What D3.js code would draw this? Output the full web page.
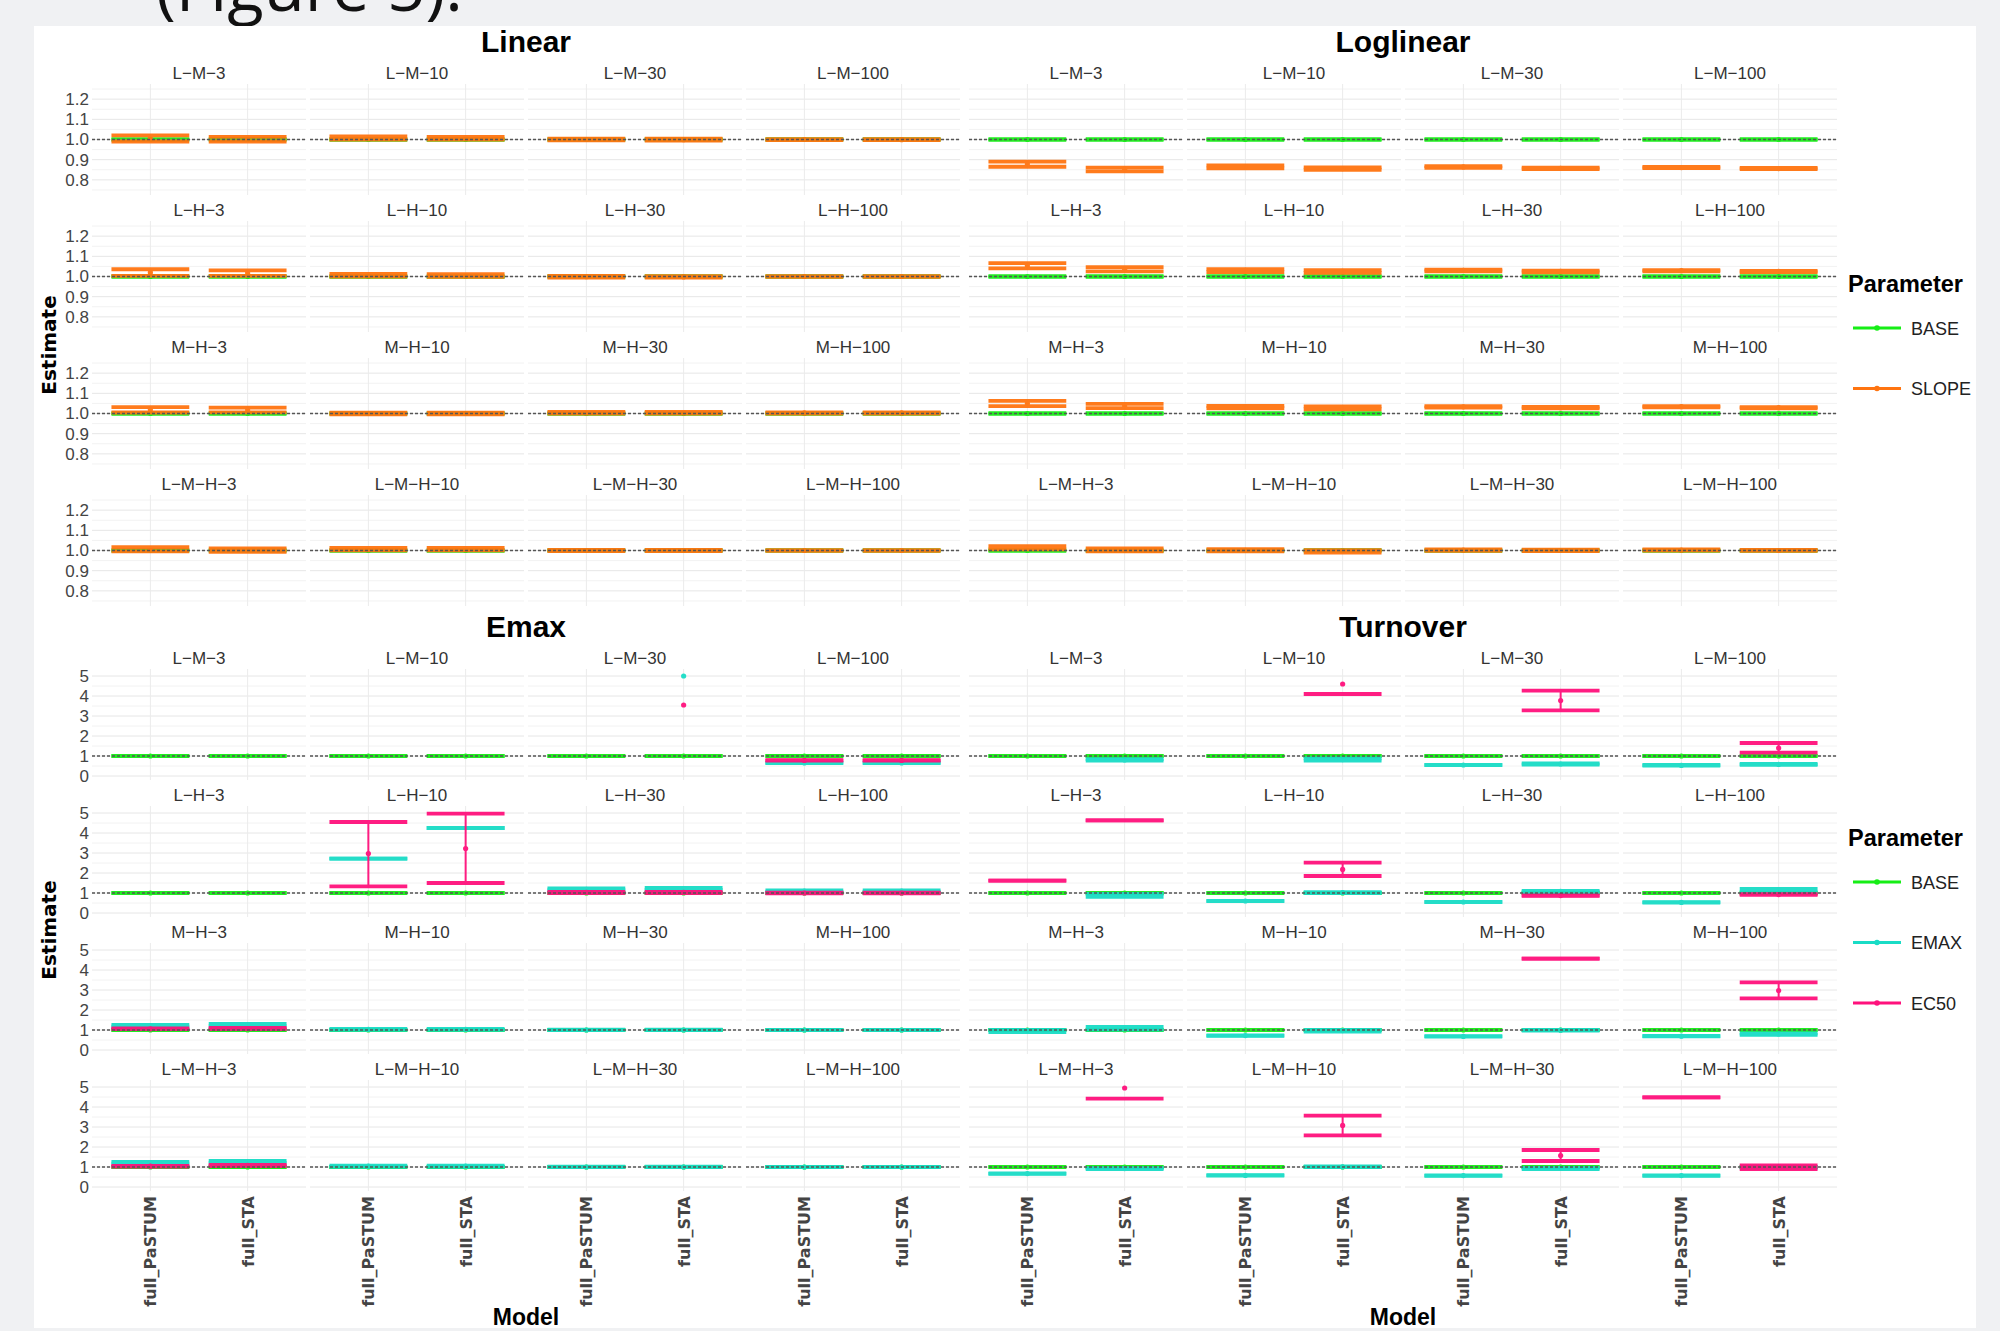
<!DOCTYPE html>
<html>
<head>
<meta charset="utf-8">
<script src="https://cdn.jsdelivr.net/npm/d3@7"></script>
<style>
  body { margin: 0; background: #f0f1f3; }
  svg { display: block; }
</style>
</head>
<body>
<svg id="chart" width="2000" height="1331"></svg>
<script>
const models = ["full_PaSTUM", "full_STA"];
const facetLabels = [
  ["L−M−3", "L−M−10", "L−M−30", "L−M−100"],
  ["L−H−3", "L−H−10", "L−H−30", "L−H−100"],
  ["M−H−3", "M−H−10", "M−H−30", "M−H−100"],
  ["L−M−H−3", "L−M−H−10", "L−M−H−30", "L−M−H−100"]
];
const upperTicks = [0.8, 0.9, 1.0, 1.1, 1.2];
const upperMinor = [0.75, 0.85, 0.95, 1.05, 1.15, 1.25];
const lowerTicks = [0, 1, 2, 3, 4, 5];
const lowerMinor = [0.5, 1.5, 2.5, 3.5, 4.5];
const paramColors = { BASE: "#16ee16", SLOPE: "#ff7410", EMAX: "#19dcc6", EC50: "#ff117c" };

// one entry per facet, row by row; each is [full_PaSTUM, full_STA] as [estimate, lower, upper]
const linearBASE = [
  [[1.0, 0.998, 1.002], [1.0, 0.998, 1.002]], [[1.0, 0.998, 1.002], [1.0, 0.998, 1.002]], [[1.0, 0.998, 1.002], [1.0, 0.998, 1.002]], [[1.0, 0.998, 1.002], [1.0, 0.998, 1.002]],
  [[1.0, 0.998, 1.002], [1.0, 0.998, 1.002]], [[1.0, 0.998, 1.002], [1.0, 0.998, 1.002]], [[1.0, 0.998, 1.002], [1.0, 0.998, 1.002]], [[1.0, 0.998, 1.002], [1.0, 0.998, 1.002]],
  [[1.0, 0.998, 1.002], [1.0, 0.998, 1.002]], [[1.0, 0.998, 1.002], [1.0, 0.998, 1.002]], [[1.0, 0.998, 1.002], [1.0, 0.998, 1.002]], [[1.0, 0.998, 1.002], [1.0, 0.998, 1.002]],
  [[1.0, 0.998, 1.002], [1.0, 0.998, 1.002]], [[1.0, 0.998, 1.002], [1.0, 0.998, 1.002]], [[1.0, 0.998, 1.002], [1.0, 0.998, 1.002]], [[1.0, 0.998, 1.002], [1.0, 0.998, 1.002]]
];
const linearSLOPE = [
  [[1.005, 0.99, 1.02], [1.0, 0.99, 1.013]], [[1.008, 1.0, 1.015], [1.006, 0.999, 1.013]], [[1.0, 0.996, 1.004], [0.999, 0.994, 1.004]], [[1.0, 0.997, 1.002], [0.999, 0.997, 1.002]],
  [[1.02, 1.003, 1.036], [1.017, 1.003, 1.03]], [[1.006, 0.999, 1.013], [1.005, 0.998, 1.012]], [[0.999, 0.995, 1.003], [0.998, 0.994, 1.002]], [[1.0, 0.998, 1.002], [1.0, 0.998, 1.002]],
  [[1.018, 1.005, 1.032], [1.017, 1.006, 1.029]], [[1.0, 0.996, 1.004], [1.0, 0.996, 1.004]], [[1.004, 1.0, 1.008], [1.004, 1.0, 1.008]], [[1.003, 1.0, 1.006], [1.003, 1.0, 1.006]],
  [[1.006, 0.996, 1.016], [1.002, 0.993, 1.011]], [[1.007, 1.001, 1.013], [1.007, 1.001, 1.013]], [[1.0, 0.997, 1.003], [1.0, 0.997, 1.003]], [[1.0, 0.998, 1.002], [1.0, 0.998, 1.002]]
];
const loglinearBASE = [
  [[1.0, 0.998, 1.002], [1.0, 0.998, 1.002]], [[1.0, 0.998, 1.002], [1.0, 0.998, 1.002]], [[1.0, 0.998, 1.002], [1.0, 0.998, 1.002]], [[1.0, 0.998, 1.002], [1.0, 0.998, 1.002]],
  [[1.0, 0.998, 1.002], [1.0, 0.998, 1.002]], [[1.0, 0.998, 1.002], [1.0, 0.998, 1.002]], [[1.0, 0.998, 1.002], [1.0, 0.998, 1.002]], [[1.0, 0.998, 1.002], [1.0, 0.998, 1.002]],
  [[1.0, 0.998, 1.002], [1.0, 0.998, 1.002]], [[1.0, 0.998, 1.002], [1.0, 0.998, 1.002]], [[1.0, 0.998, 1.002], [1.0, 0.998, 1.002]], [[1.0, 0.998, 1.002], [1.0, 0.998, 1.002]],
  [[1.0, 0.998, 1.002], [1.0, 0.998, 1.002]], [[1.0, 0.998, 1.002], [1.0, 0.998, 1.002]], [[1.0, 0.998, 1.002], [1.0, 0.998, 1.002]], [[1.0, 0.998, 1.002], [1.0, 0.998, 1.002]]
];
const loglinearSLOPE = [
  [[0.878, 0.865, 0.89], [0.852, 0.842, 0.861]], [[0.865, 0.857, 0.872], [0.856, 0.85, 0.862]], [[0.864, 0.86, 0.868], [0.857, 0.853, 0.861]], [[0.861, 0.858, 0.864], [0.856, 0.853, 0.859]],
  [[1.053, 1.04, 1.066], [1.036, 1.025, 1.046]], [[1.03, 1.022, 1.037], [1.025, 1.018, 1.032]], [[1.03, 1.026, 1.034], [1.025, 1.021, 1.029]], [[1.029, 1.026, 1.032], [1.025, 1.022, 1.028]],
  [[1.05, 1.037, 1.063], [1.037, 1.027, 1.048]], [[1.032, 1.026, 1.038], [1.028, 1.021, 1.035]], [[1.033, 1.029, 1.037], [1.029, 1.025, 1.033]], [[1.034, 1.031, 1.037], [1.029, 1.026, 1.032]],
  [[1.014, 1.006, 1.022], [1.003, 0.996, 1.011]], [[1.001, 0.996, 1.007], [0.996, 0.99, 1.002]], [[1.002, 0.998, 1.006], [1.0, 0.997, 1.004]], [[1.002, 0.999, 1.005], [1.0, 0.998, 1.003]]
];
const emaxBASE = [
  [[1.0, 0.99, 1.01], [1.0, 0.99, 1.01]], [[1.0, 0.99, 1.01], [1.0, 0.99, 1.01]], [[1.0, 0.99, 1.01], [1.0, 0.99, 1.01]], [[1.0, 0.99, 1.01], [1.0, 0.99, 1.01]],
  [[1.0, 0.99, 1.01], [1.0, 0.99, 1.01]], [[1.0, 0.99, 1.01], [1.0, 0.99, 1.01]], [[1.0, 0.99, 1.01], [1.0, 0.99, 1.01]], [[1.0, 0.99, 1.01], [1.0, 0.99, 1.01]],
  [[1.0, 0.99, 1.01], [1.0, 0.99, 1.01]], [[1.0, 0.99, 1.01], [1.0, 0.99, 1.01]], [[1.0, 0.99, 1.01], [1.0, 0.99, 1.01]], [[1.0, 0.99, 1.01], [1.0, 0.99, 1.01]],
  [[1.0, 0.99, 1.01], [1.0, 0.99, 1.01]], [[1.0, 0.99, 1.01], [1.0, 0.99, 1.01]], [[1.0, 0.99, 1.01], [1.0, 0.99, 1.01]], [[1.0, 0.99, 1.01], [1.0, 0.99, 1.01]]
];
const emaxEMAX = [
  [null, null], [null, null], [null, [5.0, null, null]], [[0.65, 0.64, 0.67], [0.65, 0.64, 0.67]],
  [null, null], [[null, 2.72, 2.72], [null, 4.25, 4.25]], [[1.18, 1.14, 1.23], [1.19, 1.15, 1.25]], [[1.1, 1.06, 1.13], [1.1, 1.06, 1.13]],
  [[1.22, 1.17, 1.26], [1.25, 1.19, 1.31]], [[1.03, 1.01, 1.05], [1.03, 1.01, 1.05]], [[1.0, 0.99, 1.02], [1.0, 0.99, 1.02]], [[1.0, 0.99, 1.01], [1.0, 0.99, 1.01]],
  [[1.21, 1.17, 1.25], [1.25, 1.21, 1.3]], [[1.04, 1.01, 1.07], [1.04, 1.01, 1.07]], [[1.0, 0.99, 1.02], [1.0, 0.99, 1.02]], [[1.0, 0.99, 1.01], [1.0, 0.99, 1.01]]
];
const emaxEC50 = [
  [null, null], [null, null], [null, [3.55, null, null]], [[0.78, 0.77, 0.79], [0.78, 0.77, 0.79]],
  [null, null], [[2.97, 1.33, 4.55], [3.22, 1.5, 4.97]], [[1.03, 1.0, 1.06], [1.03, 1.0, 1.06]], [[1.0, 0.98, 1.02], [1.0, 0.98, 1.02]],
  [[1.06, 1.04, 1.08], [1.07, 1.04, 1.1]], [null, null], [null, null], [null, null],
  [[1.04, 1.02, 1.06], [1.08, 1.05, 1.1]], [null, null], [null, null], [null, null]
];
const turnoverBASE = [
  [[1.0, 0.99, 1.01], [1.0, 0.99, 1.01]], [[1.0, 0.99, 1.01], [1.0, 0.99, 1.01]], [[1.0, 0.99, 1.01], [1.0, 0.99, 1.01]], [[1.0, 0.99, 1.01], [1.0, 0.99, 1.01]],
  [[1.0, 0.99, 1.01], [1.0, 0.99, 1.01]], [[1.0, 0.99, 1.01], [1.0, 0.99, 1.01]], [[1.0, 0.99, 1.01], [1.0, 0.99, 1.01]], [[1.0, 0.99, 1.01], [1.0, 0.99, 1.01]],
  [[1.0, 0.99, 1.01], [1.0, 0.99, 1.01]], [[1.0, 0.99, 1.01], [1.0, 0.99, 1.01]], [[1.0, 0.99, 1.01], [1.0, 0.99, 1.01]], [[1.0, 0.99, 1.01], [1.0, 0.99, 1.01]],
  [[1.0, 0.99, 1.01], [1.0, 0.99, 1.01]], [[1.0, 0.99, 1.01], [1.0, 0.99, 1.01]], [[1.0, 0.99, 1.01], [1.0, 0.99, 1.01]], [[1.0, 0.99, 1.01], [1.0, 0.99, 1.01]]
];
const turnoverEMAX = [
  [null, [0.8, 0.77, 0.84]], [null, [0.82, 0.77, 0.88]], [[0.55, 0.54, 0.56], [0.6, 0.57, 0.63]], [[0.53, 0.52, 0.55], [0.58, 0.56, 0.6]],
  [null, [0.88, 0.81, 0.96]], [[0.6, 0.59, 0.61], [1.02, 0.99, 1.04]], [[0.55, 0.54, 0.56], [1.08, 1.05, 1.11]], [[0.53, 0.52, 0.54], [1.13, 1.06, 1.21]],
  [[0.95, 0.89, 1.01], [1.09, 1.02, 1.16]], [[0.72, 0.71, 0.73], [0.97, 0.92, 1.01]], [[0.68, 0.67, 0.69], [0.99, 0.97, 1.01]], [[0.69, 0.68, 0.7], [0.8, 0.76, 0.83]],
  [[0.67, 0.66, 0.68], [0.92, 0.89, 0.94]], [[0.58, 0.57, 0.59], [1.01, 0.99, 1.03]], [[0.57, 0.56, 0.58], [0.93, 0.89, 0.96]], [[0.57, 0.56, 0.58], [0.98, 0.96, 1.0]]
];
const turnoverEC50 = [
  [null, null], [null, [4.6, 4.1, null]], [null, [3.77, 3.28, 4.27]], [null, [1.4, 1.17, 1.65]],
  [[null, 1.62, 1.62], [null, 4.63, 4.63]], [null, [2.18, 1.85, 2.52]], [null, [0.87, 0.86, 0.88]], [null, [0.92, 0.91, 0.94]],
  [null, null], [null, null], [null, [null, 4.57, 4.57]], [null, [2.97, 2.58, 3.38]],
  [null, [4.95, 4.42, null]], [null, [3.08, 2.58, 3.57]], [null, [1.57, 1.3, 1.85]], [[null, 4.48, 4.48], [0.99, 0.9, 1.08]]
];

const plots = [
  { title: "Linear", left: 92, top: 84, yDomain: [0.725, 1.275], ticks: upperTicks, minor: upperMinor, fmt: ".1f",
    yAxis: true, xAxis: false, params: ["BASE", "SLOPE"], data: { BASE: linearBASE, SLOPE: linearSLOPE } },
  { title: "Loglinear", left: 969, top: 84, yDomain: [0.725, 1.275], ticks: upperTicks, minor: upperMinor, fmt: ".1f",
    yAxis: false, xAxis: false, params: ["BASE", "SLOPE"], data: { BASE: loglinearBASE, SLOPE: loglinearSLOPE } },
  { title: "Emax", left: 92, top: 669, yDomain: [-0.2, 5.35], ticks: lowerTicks, minor: lowerMinor, fmt: "d",
    yAxis: true, xAxis: true, params: ["BASE", "EMAX", "EC50"], data: { BASE: emaxBASE, EMAX: emaxEMAX, EC50: emaxEC50 } },
  { title: "Turnover", left: 969, top: 669, yDomain: [-0.2, 5.35], ticks: lowerTicks, minor: lowerMinor, fmt: "d",
    yAxis: false, xAxis: true, params: ["BASE", "EMAX", "EC50"], data: { BASE: turnoverBASE, EMAX: turnoverEMAX, EC50: turnoverEC50 } }
];

const svg = d3.select("#chart");
const sans = "'Liberation Sans', Arial, sans-serif";
const wide = "'DejaVu Sans', Verdana, sans-serif";

// slide caption above the figure, cut off by the screenshot like the original
svg.append("text")
  .attr("x", 156).attr("y", 11)
  .attr("font-family", "'Open Sans', sans-serif").attr("font-size", 67)
  .attr("fill", "#111")
  .text("(Figure 5).");

svg.append("rect")
  .attr("x", 34).attr("y", 26).attr("width", 1942).attr("height", 1302)
  .attr("fill", "#fff");

const panelW = 214, panelH = 111, colStep = 218, rowStep = 137;

function drawPlot(p) {
  const g = svg.append("g");
  const midX = p.left + (3 * colStep + panelW) / 2;

  g.append("text")
    .attr("x", midX).attr("y", p.top - 32)
    .attr("text-anchor", "middle")
    .attr("font-family", sans).attr("font-weight", "bold").attr("font-size", 30)
    .text(p.title);

  if (p.yAxis) {
    g.append("text")
      .attr("transform", `translate(56,${p.top + (3 * rowStep + panelH) / 2}) rotate(-90)`)
      .attr("text-anchor", "middle")
      .attr("font-family", wide).attr("font-weight", "bold").attr("font-size", 20)
      .text("Estimate");
  }
  if (p.xAxis) {
    g.append("text")
      .attr("x", midX).attr("y", p.top + 656)
      .attr("text-anchor", "middle")
      .attr("font-family", sans).attr("font-weight", "bold").attr("font-size", 23)
      .text("Model");
  }

  facetLabels.forEach((rowLabels, r) => {
    const top = p.top + r * rowStep, bottom = top + panelH;
    const y = d3.scaleLinear().domain(p.yDomain).range([bottom, top]);

    if (p.yAxis) {
      const ax = g.append("g")
        .attr("transform", `translate(${p.left - 3},0)`)
        .call(d3.axisLeft(y).tickValues(p.ticks).tickSize(0).tickPadding(0).tickFormat(d3.format(p.fmt)));
      ax.select(".domain").remove();
      ax.selectAll("text")
        .attr("font-family", sans).attr("font-size", 17).attr("fill", "#444");
    }

    rowLabels.forEach((lab, c) => {
      const left = p.left + c * colStep;
      const x = d3.scalePoint().domain(models).range([left, left + panelW]).padding(0.6);
      const hw = x.step() * 0.4;
      const idx = r * 4 + c;
      const pg = g.append("g");

      // gridlines
      pg.selectAll(".minor").data(p.minor).join("line")
        .attr("x1", left).attr("x2", left + panelW)
        .attr("y1", d => y(d)).attr("y2", d => y(d))
        .attr("stroke", "#f2f2f2").attr("stroke-width", 1);
      pg.selectAll(".major").data(p.ticks).join("line")
        .attr("x1", left).attr("x2", left + panelW)
        .attr("y1", d => y(d)).attr("y2", d => y(d))
        .attr("stroke", "#e6e6e6").attr("stroke-width", 1);
      pg.selectAll(".vgrid").data(models).join("line")
        .attr("x1", d => x(d)).attr("x2", d => x(d))
        .attr("y1", top).attr("y2", bottom)
        .attr("stroke", "#ebebeb").attr("stroke-width", 1);

      pg.append("text")
        .attr("x", left + panelW / 2).attr("y", top - 5)
        .attr("text-anchor", "middle")
        .attr("font-family", sans).attr("font-size", 17).attr("fill", "#333")
        .text(lab);

      // error bars and points
      p.params.forEach(name => {
        const col = paramColors[name];
        const entry = p.data[name][idx];
        models.forEach((m, k) => {
          const d = entry[k];
          if (!d) return;
          const [est, lo, hi] = d;
          const cx = x(m);
          const mg = pg.append("g").attr("opacity", 0.95);
          if (lo != null && hi != null) {
            mg.append("line")
              .attr("x1", cx).attr("x2", cx).attr("y1", y(lo)).attr("y2", y(hi))
              .attr("stroke", col).attr("stroke-width", 2);
          }
          [lo, hi].filter(v => v != null).forEach(v => {
            mg.append("line")
              .attr("x1", cx - hw).attr("x2", cx + hw).attr("y1", y(v)).attr("y2", y(v))
              .attr("stroke", col).attr("stroke-width", 3.8);
          });
          if (est != null) {
            mg.append("circle")
              .attr("cx", cx).attr("cy", y(est)).attr("r", 2.6)
              .attr("fill", col);
          }
        });
      });

      // reference line at 1
      pg.append("line")
        .attr("x1", left).attr("x2", left + panelW)
        .attr("y1", y(1)).attr("y2", y(1))
        .attr("stroke", "#555").attr("stroke-width", 1.3)
        .attr("stroke-dasharray", "3,2");

      if (p.xAxis && r === 3) {
        const xa = pg.append("g")
          .attr("transform", `translate(0,${bottom})`)
          .call(d3.axisBottom(x).tickSize(0));
        xa.select(".domain").remove();
        xa.selectAll("text")
          .attr("transform", "rotate(-90)")
          .attr("x", -5).attr("y", 0).attr("dy", "0.35em")
          .attr("text-anchor", "end")
          .attr("font-family", wide).attr("font-weight", "bold").attr("font-size", 16)
          .attr("fill", "#444");
      }
    });
  });
}

plots.forEach(drawPlot);

// legends
function drawLegend(titleY, names) {
  const lg = svg.append("g");
  lg.append("text")
    .attr("x", 1848).attr("y", titleY)
    .attr("font-family", sans).attr("font-weight", "bold").attr("font-size", 23.5)
    .text("Parameter");
  names.forEach((n, i) => {
    const cy = titleY + 36 + i * 60.5;
    lg.append("line")
      .attr("x1", 1853).attr("x2", 1901).attr("y1", cy).attr("y2", cy)
      .attr("stroke", paramColors[n]).attr("stroke-width", 3);
    lg.append("circle").attr("cx", 1877).attr("cy", cy).attr("r", 2.8).attr("fill", paramColors[n]);
    lg.append("text")
      .attr("x", 1911).attr("y", cy + 6.5)
      .attr("font-family", sans).attr("font-size", 18).attr("fill", "#222")
      .text(n);
  });
}
drawLegend(292, ["BASE", "SLOPE"]);
drawLegend(846, ["BASE", "EMAX", "EC50"]);
</script>
</body>
</html>
